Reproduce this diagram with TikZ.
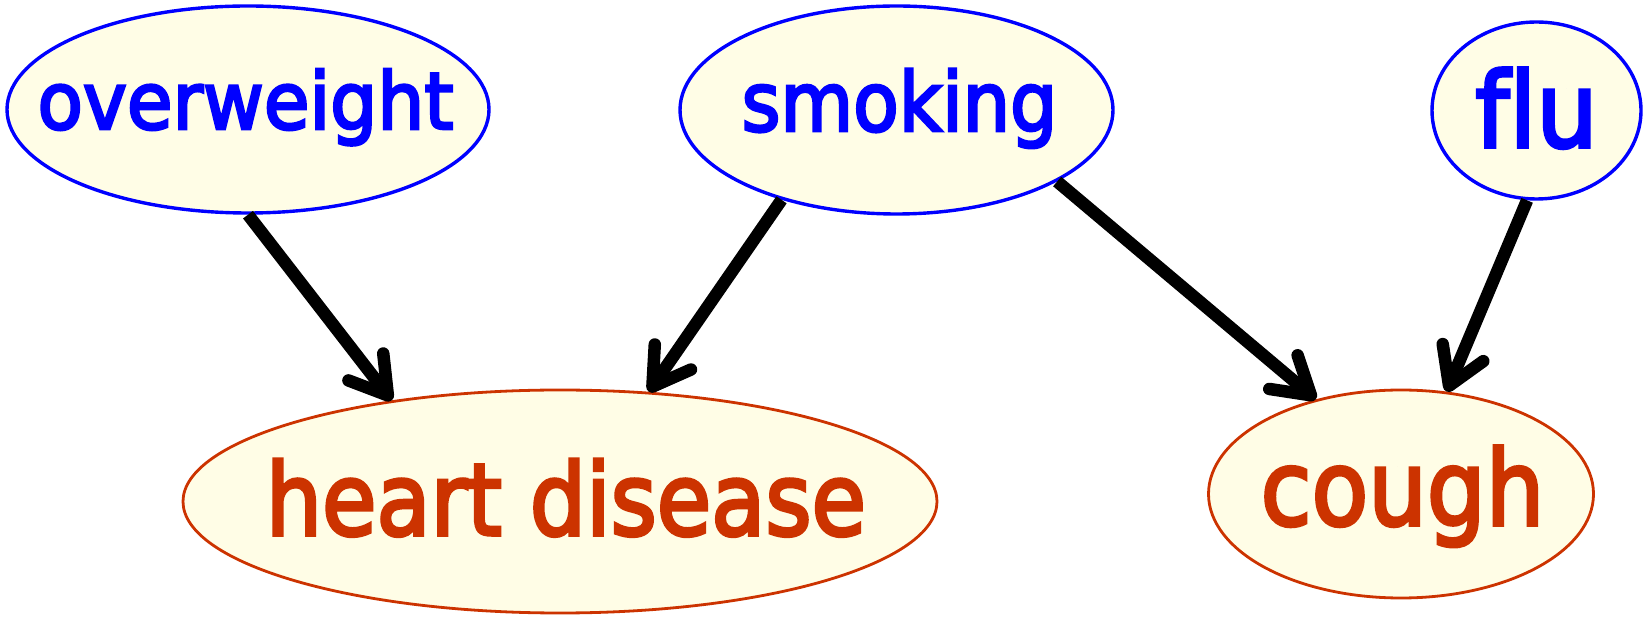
\documentclass[tikz,border=0pt]{standalone}
\usepackage{fontspec}
\setmainfont{DejaVu Sans}
\newfontfamily\medfont[FakeBold=3.5]{DejaVu Sans}
\usetikzlibrary{arrows.meta,shapes.geometric}
\definecolor{nodefill}{RGB}{255,253,230}
\definecolor{obsred}{RGB}{204,51,0}
\definecolor{hidblue}{RGB}{0,0,255}
\tikzset{
  hid/.style={ellipse, draw=hidblue, line width=3.4pt, fill=nodefill, inner sep=0pt},
  obs/.style={ellipse, draw=obsred, line width=2.8pt, fill=nodefill, inner sep=0pt},
  lbl/.style={anchor=base, inner sep=0pt},
  arr/.style={line width=12.5pt, -{Straight Barb[length=36pt,width=44pt,line width=12.5pt,round]}}
}
\begin{document}
\begin{tikzpicture}[x=1pt,y=1pt]
\useasboundingbox (0,0) rectangle (1648,618);
% nodes
\node[hid, minimum width=482pt, minimum height=207pt] (ow) at (248,508.5) {};
\node[hid, minimum width=433pt, minimum height=208pt] (sm) at (896.5,508) {};
\node[hid, minimum width=209pt, minimum height=177pt] (fl) at (1536.5,507.5) {};
\node[obs, minimum width=754pt, minimum height=223pt] (hd) at (560,116.5) {};
\node[obs, minimum width=385pt, minimum height=208pt] (co) at (1401,124) {};
% labels
\node[lbl, text=hidblue, font=\medfont\fontsize{79pt}{79pt}\selectfont] (owt) at (245.5,489) {\scalebox{0.94}[1]{overweight}};
\node[lbl, text=hidblue, font=\medfont\fontsize{82pt}{82pt}\selectfont] (smt) at (899.5,487) {\scalebox{0.91}[1]{smoking}};
\node[lbl, text=hidblue, font=\medfont\fontsize{104pt}{104pt}\selectfont] (flt) at (1536.5,471) {\scalebox{0.93}[1]{f\kern0pt lu}};
\node[lbl, text=obsred, font=\medfont\fontsize{100pt}{100pt}\selectfont] (hdt) at (566,83) {\scalebox{0.885}[1]{heart disease}};
\node[lbl, text=obsred, font=\medfont\fontsize{104pt}{104pt}\selectfont] (cot) at (1402.5,93) {\scalebox{0.89}[1]{cough}};
% edges
\draw[arr] (ow.270) -- (hd.149.9);
\draw[arr] (sm.218.6) -- (hd.51.6);
\draw[arr] (sm.-24.1) -- (co.132.7);
\draw[arr] (fl.264.5) -- (co.66.1);
\end{tikzpicture}
\end{document}
